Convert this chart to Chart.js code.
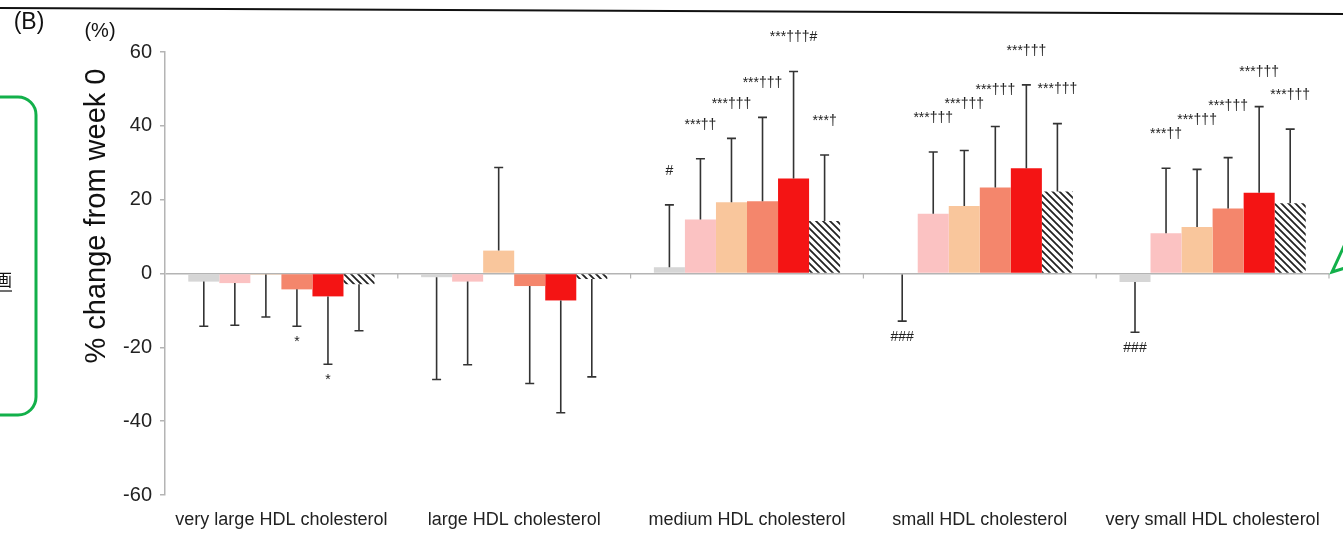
<!DOCTYPE html>
<html lang="en">
<head>
  <meta charset="UTF-8">
  <title>HDL subclass cholesterol</title>
  <script src="https://cdn.jsdelivr.net/npm/chart.js"></script>
  <style>
    body { margin: 0; background: #fff; }
    .container { width: 1343px; height: 533px; }
  </style>
</head>
<body>
  <div class="container">
    <canvas id="myChart"></canvas>
  </div>
  <script>
    const categories = ['very large HDL cholesterol', 'large HDL cholesterol', 'medium HDL cholesterol', 'small HDL cholesterol', 'very small HDL cholesterol']
    const yTicks = [-60, -40, -20, 0, 20, 40, 60]

    // mean % change and SD for each of the six groups
    const greyMean = [-2.2, -1.0, 1.7, -0.3, -2.3]
    const greySd = [12.1, 27.7, 16.9, 12.6, 13.6]
    const pinkMean = [-2.6, -2.2, 14.6, 16.2, 10.9]
    const pinkSd = [11.4, 22.5, 16.5, 16.7, 17.6]
    const peachMean = [-0.3, 6.2, 19.3, 18.3, 12.6]
    const peachSd = [11.5, 22.5, 17.3, 15.0, 15.6]
    const salmonMean = [-4.3, -3.4, 19.6, 23.3, 17.6]
    const salmonSd = [10.0, 26.4, 22.7, 16.5, 13.8]
    const redMean = [-6.2, -7.3, 25.7, 28.5, 21.9]
    const redSd = [18.4, 30.4, 29.0, 22.6, 23.3]
    const hatchMean = [-2.9, -1.5, 14.2, 22.2, 19.0]
    const hatchSd = [12.6, 26.5, 17.9, 18.4, 20.1]

    // significance marks
    const greyMarks = ['', '', '#', '###', '###']
    const pinkMarks = ['', '', '***††', '***†††', '***††']
    const peachMarks = ['', '', '***†††', '***†††', '***†††']
    const salmonMarks = ['*', '', '***†††', '***†††', '***†††']
    const redMarks = ['*', '', '***†††#', '***†††', '***†††']
    const hatchMarks = ['', '', '***†', '***†††', '***†††']

    const FONT = '"Liberation Sans", Arial, sans-serif'

    function hatchPattern() {
      const s = 7
      const c = document.createElement('canvas')
      c.width = s; c.height = s
      const g = c.getContext('2d')
      g.fillStyle = '#fff'
      g.fillRect(0, 0, s, s)
      g.strokeStyle = '#222'
      g.lineWidth = 1.8
      g.beginPath()
      g.moveTo(-1, -1); g.lineTo(s + 1, s + 1)
      g.moveTo(-1, s - 1); g.lineTo(1, s + 1)
      g.moveTo(s - 1, -1); g.lineTo(s + 1, 1)
      g.stroke()
      return document.getElementById('myChart').getContext('2d').createPattern(c, 'repeat')
    }

    const series = [
      { mean: greyMean, sd: greySd, marks: greyMarks, color: '#d6d6d6' },
      { mean: pinkMean, sd: pinkSd, marks: pinkMarks, color: '#fbc2c2' },
      { mean: peachMean, sd: peachSd, marks: peachMarks, color: '#f9c69c' },
      { mean: salmonMean, sd: salmonSd, marks: salmonMarks, color: '#f4866c' },
      { mean: redMean, sd: redSd, marks: redMarks, color: '#f41414' },
      { mean: hatchMean, sd: hatchSd, marks: hatchMarks, color: hatchPattern() }
    ]

    const errorBars = {
      id: 'errorBars',
      afterDatasetsDraw(chart) {
        const ctx = chart.ctx
        const y = chart.scales.y
        ctx.save()
        ctx.strokeStyle = '#333'
        ctx.lineWidth = 1.6
        series.forEach((s, di) => {
          chart.getDatasetMeta(di).data.forEach((bar, i) => {
            const m = s.mean[i]
            const end = m >= 0 ? m + s.sd[i] : m - s.sd[i]
            const y1 = y.getPixelForValue(m)
            const y2 = y.getPixelForValue(end)
            ctx.beginPath()
            ctx.moveTo(bar.x, y1); ctx.lineTo(bar.x, y2)
            ctx.moveTo(bar.x - 4.5, y2); ctx.lineTo(bar.x + 4.5, y2)
            ctx.stroke()
          })
        })

        // significance marks, stacked upwards where neighbours would collide
        ctx.fillStyle = '#222'
        ctx.font = '14px ' + FONT
        ctx.textAlign = 'center'
        ctx.textBaseline = 'middle'
        categories.forEach((c, i) => {
          let prev = null
          series.forEach((s, di) => {
            const txt = s.marks[i]
            if (!txt) { prev = null; return }
            const bar = chart.getDatasetMeta(di).data[i]
            const m = s.mean[i]
            const w = ctx.measureText(txt).width
            let ty
            if (m >= 0) {
              ty = y.getPixelForValue(m + s.sd[i]) - 34
              if (prev && prev.up && Math.abs(prev.y - ty) < 14 && bar.x - w / 2 < prev.right) ty = prev.y - 14
              if (prev && prev.up && ty > prev.y && ty - prev.y < 14 && bar.x - w / 2 < prev.right) ty = prev.y - 14
            } else {
              ty = y.getPixelForValue(m - s.sd[i]) + 16
            }
            ctx.fillText(txt, bar.x, ty)
            prev = { y: ty, right: bar.x + w / 2, up: m >= 0 }
          })
        })
        ctx.restore()
      }
    }

    const decorations = {
      id: 'decorations',
      afterDraw(chart) {
        const ctx = chart.ctx
        const x = chart.scales.x
        const y = chart.scales.y
        const area = chart.chartArea
        const y0 = y.getPixelForValue(0)
        ctx.save()

        // small ticks on the zero line between categories
        ctx.strokeStyle = '#b4b4b4'
        ctx.lineWidth = 1.2
        ctx.beginPath()
        categories.forEach((c, i) => {
          const bx = i < categories.length - 1 ? (x.getPixelForValue(i) + x.getPixelForValue(i + 1)) / 2 : area.right
          ctx.moveTo(bx, y0); ctx.lineTo(bx, y0 + 5)
        })
        ctx.stroke()

        // axis title and unit
        ctx.fillStyle = '#111'
        ctx.textAlign = 'center'
        ctx.textBaseline = 'middle'
        ctx.save()
        ctx.translate(97, 216)
        ctx.rotate(-Math.PI / 2)
        ctx.font = '29px ' + FONT
        ctx.fillText('% change from week 0', 0, 0)
        ctx.restore()
        ctx.font = '20px ' + FONT
        ctx.fillText('(%)', 100, 31)
        ctx.font = '23px ' + FONT
        ctx.fillText('(B)', 29, 23)

        // rule across the top
        ctx.strokeStyle = '#111'
        ctx.lineWidth = 2.2
        ctx.beginPath()
        ctx.moveTo(0, 8); ctx.lineTo(1343, 14)
        ctx.stroke()

        // green callout frame on the left
        ctx.strokeStyle = '#12b04a'
        ctx.lineWidth = 3
        ctx.beginPath()
        ctx.moveTo(-10, 97)
        ctx.arcTo(36, 97, 36, 140, 18)
        ctx.arcTo(36, 415, -10, 415, 18)
        ctx.lineTo(-10, 415)
        ctx.stroke()
        ctx.fillStyle = '#111'
        ctx.font = '17px "Noto Sans CJK JP", sans-serif'
        ctx.textAlign = 'right'
        ctx.fillText('画', 12, 280)
        ctx.lineWidth = 1.2
        ctx.strokeStyle = '#111'
        ctx.beginPath()
        ctx.moveTo(0, 291); ctx.lineTo(12, 291)
        ctx.stroke()

        // green arrow tip at the right edge
        ctx.strokeStyle = '#12b04a'
        ctx.lineWidth = 3
        ctx.beginPath()
        ctx.moveTo(1345, 244); ctx.lineTo(1332, 272); ctx.lineTo(1345, 268)
        ctx.stroke()
        ctx.restore()
      }
    }

    new Chart(document.getElementById('myChart'), {
      type: 'bar',
      data: {
        labels: categories,
        datasets: series.map((s, i) => ({
          label: 'group ' + (i + 1),
          data: s.mean,
          backgroundColor: s.color,
          borderWidth: 0,
          categoryPercentage: 0.8,
          barPercentage: 1.0
        }))
      },
      options: {
        responsive: true,
        maintainAspectRatio: false,
        animation: false,
        layout: { padding: { left: 0, right: 14, top: 52, bottom: 0 } },
        plugins: { legend: { display: false }, tooltip: { enabled: false } },
        scales: {
          x: {
            grid: { display: false },
            border: { display: false },
            ticks: { color: '#222', font: { size: 18, family: FONT }, padding: 6, maxRotation: 0 },
            afterFit: s => { s.height = 38 }
          },
          y: {
            min: -60,
            max: 60,
            afterBuildTicks: s => { s.ticks = yTicks.map(v => ({ value: v })) },
            ticks: { color: '#222', font: { size: 20, family: FONT }, padding: 8 },
            grid: {
              color: c => c.tick && c.tick.value === 0 ? '#b4b4b4' : 'rgba(0,0,0,0)',
              tickColor: '#b4b4b4',
              tickLength: 5,
              lineWidth: 1.5
            },
            border: { display: true, color: '#b4b4b4', width: 1.5 },
            afterFit: s => { s.width = 165 }
          }
        }
      },
      plugins: [errorBars, decorations]
    })
  </script>
</body>
</html>
